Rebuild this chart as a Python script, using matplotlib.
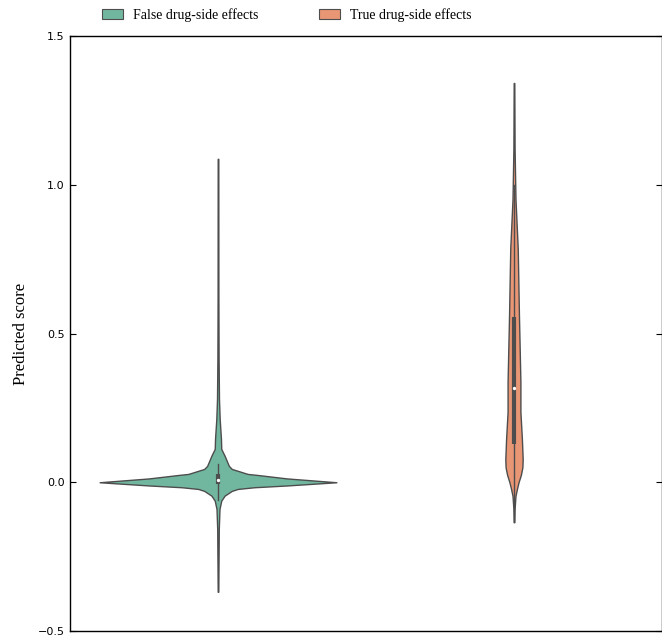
import matplotlib.pyplot as plt
from matplotlib.patches import Patch

# legend / category names
labels = ["False drug-side effects", "True drug-side effects"]
colors = ["#71b7a0", "#e99675"]

# violin outlines: score and relative density
false_score = [-0.368, -0.157, -0.09, -0.062, -0.045, -0.029, -0.0225, -0.0168, -0.0108,
               0.0, 0.0128, 0.0245, 0.028, 0.0447, 0.055, 0.089, 0.112, 0.146, 0.213,
               0.28, 0.415, 0.616, 1.087]
false_dens = [0.3, 0.8, 1.5, 3.3, 6.7, 14, 20, 36.7, 70,
              120, 70, 40, 30, 14, 11, 6.7, 3.3, 3.0, 1.7,
              1.0, 0.6, 0.4, 0.3]
true_score = [-0.134, -0.09, -0.046, -0.022, 0.001, 0.025, 0.05, 0.078, 0.146, 0.236,
              0.337, 0.563, 0.785, 0.952, 1.121, 1.342]
true_dens = [0.3, 0.6, 1.5, 3.0, 4.7, 7.0, 8.5, 8.8, 8.0, 6.5,
             6.5, 5.0, 3.8, 1.5, 0.6, 0.3]

# inner box: whisker low, q1, median, q3, whisker high
false_box = [-0.06, -0.006, 0.008, 0.028, 0.061]
true_box = [-0.134, 0.129, 0.317, 0.555, 1.0]

fig = plt.figure(figsize=(6.62, 6.37), dpi=100)
ax = fig.add_axes([70 / 662, 1 - 631 / 637, 592 / 662, 595 / 637])

positions = [-0.25, 0.25]
scale = 0.2 / max(max(false_dens), max(true_dens))
edge = "#4d4d4d"

for pos, sc, dn, bx, col in zip(positions, [false_score, true_score], [false_dens, true_dens],
                                [false_box, true_box], colors):
    left = [pos - d * scale for d in dn]
    right = [pos + d * scale for d in dn]
    ax.fill_betweenx(sc, left, right, facecolor=col, edgecolor=edge, linewidth=1, zorder=2)
    ax.plot([pos, pos], [bx[0], bx[4]], color=edge, linewidth=1.0, zorder=3)
    ax.plot([pos, pos], [bx[1], bx[3]], color=edge, linewidth=3.0, solid_capstyle="butt", zorder=3)
    ax.scatter([pos], [bx[2]], s=2, color="white", zorder=4)

ax.set_xlim(-0.5, 0.5)
ax.set_ylim(-0.5, 1.5)
ax.set_yticks([-0.5, 0.0, 0.5, 1.0, 1.5])
ax.set_xticks([])
ax.tick_params(axis="y", direction="in", right=True, length=4, labelsize=8, width=0.8, pad=4)
for s in ax.spines.values():
    s.set_linewidth(1)
ax.set_ylabel("Predicted score", family="Liberation Serif", fontsize=12, labelpad=6)

handles = [Patch(facecolor=c, edgecolor=edge, linewidth=0.8) for c in colors]
fig.legend(handles, labels, loc="center", bbox_to_anchor=(287 / 662, 1 - 15 / 637), ncol=2,
           frameon=False, prop={"family": "Liberation Serif", "size": 10},
           handlelength=1.5, handleheight=0.8, handletextpad=0.7, columnspacing=4.4)

fig.savefig("out.png", dpi=100)
